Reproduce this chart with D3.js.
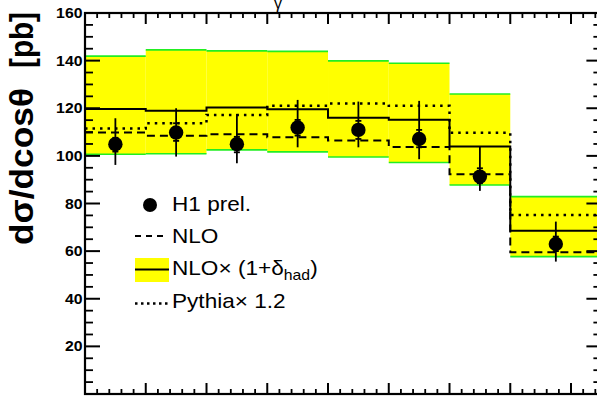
<!DOCTYPE html>
<html><head><meta charset="utf-8">
<script src="https://cdn.jsdelivr.net/npm/d3@7"></script>
<style>html,body{margin:0;padding:0;background:#fff;}svg{display:block;}</style>
</head><body>
<svg id="c" width="597" height="396"></svg>
<script>
// ---- data ----
const binEdges = [0, 1, 2, 3, 4, 5, 6, 7, 8.5];
const bandHigh = [141.9, 144.5, 144.1, 143.9, 139.9, 138.9, 126.0, 82.9];
const bandLow  = [100.7, 100.9, 102.5, 101.7, 99.5, 97.2, 87.8, 57.7];
const nloHad   = [119.7, 118.9, 120.3, 119.6, 116.0, 115.2, 103.9, 68.6];
const nlo      = [109.8, 108.5, 109.1, 107.8, 106.5, 103.7, 92.3, 59.5];
const pythia   = [111.5, 113.7, 117.2, 121.1, 122.0, 121.0, 109.7, 75.2];
const h1       = [104.9, 109.8, 104.9, 111.9, 110.9, 107.1, 91.3, 63.0];
const totUp    = [115.8, 120.0, 117.6, 123.5, 122.8, 123.1, 103.9, 72.4];
const totDn    = [96.2, 99.7, 96.9, 103.6, 103.6, 98.6, 85.3, 55.6];
const statUp   = [107.6, 113.7, 108.0, 115.1, 114.7, 110.9, 94.8, 66.1];
const statDn   = [101.8, 106.3, 101.5, 108.5, 107.1, 103.6, 88.5, 60.0];
const yMajor   = [20, 40, 60, 80, 100, 120, 140, 160];
const yLabels  = ["20", "40", "60", "80", "100", "120", "140", "160"];
const legendLabels = ["H1 prel.", "NLO", "NLO\u00d7 (1+\u03b4", "Pythia\u00d7 1.2"];

const svg = d3.select("#c");
const L = 85, T = 13, R = 601.4, B = 394;
const x = d3.scaleLinear().domain([0, 8.5]).range([L, R]);
const y = d3.scaleLinear().domain([0, 160]).range([B, T]);
const SX = 1.13;

const bins = d3.range(bandHigh.length).map(i => ({
  x0: binEdges[i], x1: binEdges[i + 1], xc: (binEdges[i] + binEdges[i + 1]) / 2,
  hi: bandHigh[i], lo: bandLow[i], had: nloHad[i], nlo: nlo[i], py: pythia[i],
  v: h1[i], tu: totUp[i], td: totDn[i], su: statUp[i], sd: statDn[i]
}));

// band
const area = d3.area().x(d => x(d[0])).y0(d => y(d[1])).y1(d => y(d[2]));
bins.forEach(b => {
  svg.append("path").attr("d", area([[b.x0, b.lo, b.hi], [b.x1, b.lo, b.hi]]))
    .attr("fill", "#ffff00").attr("stroke", "none");
});
bins.forEach(b => {
  ["hi", "lo"].forEach(k => {
    svg.append("line").attr("x1", x(b.x0)).attr("x2", x(b.x1)).attr("y1", y(b[k])).attr("y2", y(b[k]))
      .attr("stroke", "#22ee22").attr("stroke-width", 1.6);
  });
});

// step lines
function stepPts(key) {
  const pts = [];
  bins.forEach(b => { pts.push([b.x0, b[key]]); pts.push([b.x1, b[key]]); });
  return pts;
}
const line = d3.line().x(d => x(d[0])).y(d => y(d[1]));
svg.append("path").attr("d", line(stepPts("nlo"))).attr("fill", "none").attr("stroke", "#000")
  .attr("stroke-width", 2).attr("stroke-dasharray", "8,5");
svg.append("path").attr("d", line(stepPts("py"))).attr("fill", "none").attr("stroke", "#000")
  .attr("stroke-width", 2.5).attr("stroke-dasharray", "2.5,5");
svg.append("path").attr("d", line(stepPts("had"))).attr("fill", "none").attr("stroke", "#000")
  .attr("stroke-width", 2);

// data points
const pg = svg.append("g");
bins.forEach(b => {
  pg.append("line").attr("x1", x(b.xc)).attr("x2", x(b.xc)).attr("y1", y(b.tu)).attr("y2", y(b.td))
    .attr("stroke", "#000").attr("stroke-width", 1.8);
  [b.su, b.sd].forEach(s => {
    pg.append("line").attr("x1", x(b.xc) - 3).attr("x2", x(b.xc) + 3).attr("y1", y(s)).attr("y2", y(s))
      .attr("stroke", "#000").attr("stroke-width", 1.8);
  });
  pg.append("circle").attr("cx", x(b.xc)).attr("cy", y(b.v)).attr("r", 7.2).attr("fill", "#000");
});

// axes (ticks drawn via scales)
const ax = svg.append("g").attr("stroke", "#000");
const yMinor = d3.range(5, 160, 5).filter(v => v % 20 !== 0);
yMajor.forEach(v => {
  ax.append("line").attr("x1", L).attr("x2", L + 15).attr("y1", y(v)).attr("y2", y(v)).attr("stroke-width", 2);
  ax.append("line").attr("x1", R).attr("x2", R - 15).attr("y1", y(v)).attr("y2", y(v)).attr("stroke-width", 2);
});
yMinor.forEach(v => {
  ax.append("line").attr("x1", L).attr("x2", L + 8).attr("y1", y(v)).attr("y2", y(v)).attr("stroke-width", 1.8);
  ax.append("line").attr("x1", R).attr("x2", R - 8).attr("y1", y(v)).attr("y2", y(v)).attr("stroke-width", 1.8);
});
const xMajor = d3.range(0, 9, 1);
const xMinor = d3.range(0, 8.5, 0.2).filter(v => Math.abs(v - Math.round(v)) > 1e-6);
xMajor.forEach(v => {
  ax.append("line").attr("x1", x(v)).attr("x2", x(v)).attr("y1", T).attr("y2", T + 11).attr("stroke-width", 2);
  ax.append("line").attr("x1", x(v)).attr("x2", x(v)).attr("y1", B).attr("y2", B - 11).attr("stroke-width", 2);
});
xMinor.forEach(v => {
  ax.append("line").attr("x1", x(v)).attr("x2", x(v)).attr("y1", T).attr("y2", T + 5).attr("stroke-width", 1.8);
  ax.append("line").attr("x1", x(v)).attr("x2", x(v)).attr("y1", B).attr("y2", B - 5).attr("stroke-width", 1.8);
});
svg.append("rect").attr("x", L).attr("y", T).attr("width", R - L).attr("height", B - T)
  .attr("fill", "none").attr("stroke", "#000").attr("stroke-width", 2.2);

// y tick labels
const lf = "Liberation Sans, Arial, sans-serif";
yMajor.forEach((v, i) => {
  svg.append("g").attr("transform", `translate(${L - 2.5},${y(v)}) scale(${SX},1)`)
    .append("text").attr("text-anchor", "end").attr("dy", "0.36em")
    .attr("font-family", lf).attr("font-weight", "bold")
    .attr("font-size", 14).text(yLabels[i]);
});

// y title (two parts, as spaced in the reference)
const tg = svg.append("g").attr("transform", `translate(33,0) rotate(-90) scale(1,${SX})`);
tg.append("text").attr("x", -245).attr("font-family", lf).attr("font-weight", "bold")
  .attr("font-size", 29).attr("textLength", 157).attr("lengthAdjust", "spacingAndGlyphs")
  .text("d\u03c3/dcos\u03b8");
tg.append("text").attr("x", -68).attr("font-family", lf).attr("font-weight", "bold")
  .attr("font-size", 29).attr("textLength", 56).attr("lengthAdjust", "spacingAndGlyphs")
  .text("[pb]");

// top partial title glyph
svg.append("text").attr("x", 278).attr("y", 9).attr("text-anchor", "middle")
  .attr("font-family", lf).attr("font-size", 16).text("\u03b3");

// legend
function legText(tx, ty, str) {
  return svg.append("g").attr("transform", `translate(${tx},${ty}) scale(${SX},1)`)
    .append("text").attr("font-family", lf).attr("font-size", 20).text(str);
}
svg.append("circle").attr("cx", 150).attr("cy", 205).attr("r", 7).attr("fill", "#000");
legText(172, 211, legendLabels[0]);
svg.append("line").attr("x1", 135).attr("x2", 168).attr("y1", 236).attr("y2", 236)
  .attr("stroke", "#000").attr("stroke-width", 1.8).attr("stroke-dasharray", "6,5");
legText(172, 243, legendLabels[1]);
svg.append("rect").attr("x", 135).attr("y", 258).attr("width", 34).attr("height", 24).attr("fill", "#ffff00");
svg.append("line").attr("x1", 135).attr("x2", 169).attr("y1", 269.5).attr("y2", 269.5)
  .attr("stroke", "#000").attr("stroke-width", 2);
const t3 = legText(172, 275, legendLabels[2]);
t3.append("tspan").attr("font-size", 14).attr("dy", 5).text("had");
t3.append("tspan").attr("dy", -5).text(")");
svg.append("line").attr("x1", 135).attr("x2", 168).attr("y1", 303.5).attr("y2", 303.5)
  .attr("stroke", "#000").attr("stroke-width", 2.5).attr("stroke-dasharray", "2.5,3.5");
legText(172, 308, legendLabels[3]);
</script>
</body></html>
